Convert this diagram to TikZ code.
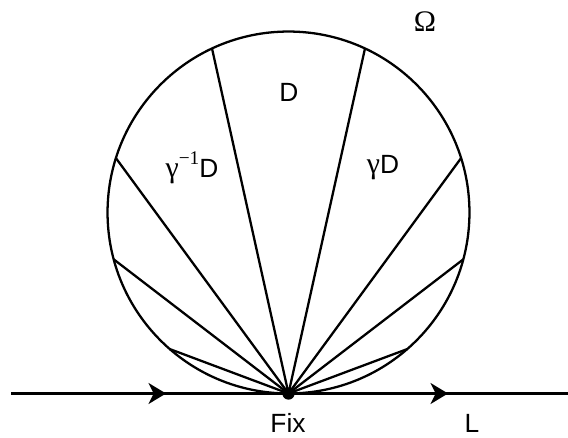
\documentclass[tikz,border=0pt]{standalone}
\usepackage{fontspec}
\setmainfont{Liberation Sans}
\newfontfamily\seriffont{Liberation Serif}
\usetikzlibrary{calc,arrows.meta}
\begin{document}
\begin{tikzpicture}[x=0.02cm,y=0.02cm,line width=1.3pt,
  lbl/.style={font=\fontsize{15}{17}\selectfont,inner sep=0pt},
  tipstyle/.style={-{Stealth[length=10pt,width=12pt,inset=3pt]}},
  chord/.style={line width=1.3pt}]
\useasboundingbox (0,0) rectangle (568,437);
\coordinate (C) at (288.5,224.5);
\draw (C) circle[radius=3.62cm];
\coordinate (Lstart) at (11,43.5);
\coordinate (Lend) at (568,43.5);
\coordinate (a1) at (166,43.5);
\coordinate (a2) at (448,43.5);
\node[circle,fill,inner sep=0pt,minimum size=7pt] (fix) at (288.5,43.5) {};
\foreach \a/\n in {115/p1,65/p2,162.5/p3,17.5/p4,195/p5,-15/p6,229/p7,-49/p8}{
  \coordinate (\n) at ($(C)+(\a:3.62cm)$);
  \draw[chord] (fix.center) -- (\n);
}
\draw (Lstart) -- (Lend);
\draw[tipstyle] (Lstart) -- (a1);
\draw[tipstyle] (fix.center) -- (a2);
\node[lbl] (omega) at (425,415) {\fontsize{17}{19}\selectfont\seriffont Ω};
\node[lbl] (D) at (289,345) {D};
\node[lbl] (ginvD) at (192,269) {{\fontsize{17}{19}\selectfont\seriffont γ}\raisebox{0.5em}{\fontsize{11}{13}\selectfont\seriffont −1}D};
\node[lbl] (gD) at (383,269) {{\fontsize{17}{19}\selectfont\seriffont γ}D};
\node[lbl] (fixlbl) at (288,14) {Fix};
\node[lbl] (L) at (472,14) {L};
\end{tikzpicture}
\end{document}
